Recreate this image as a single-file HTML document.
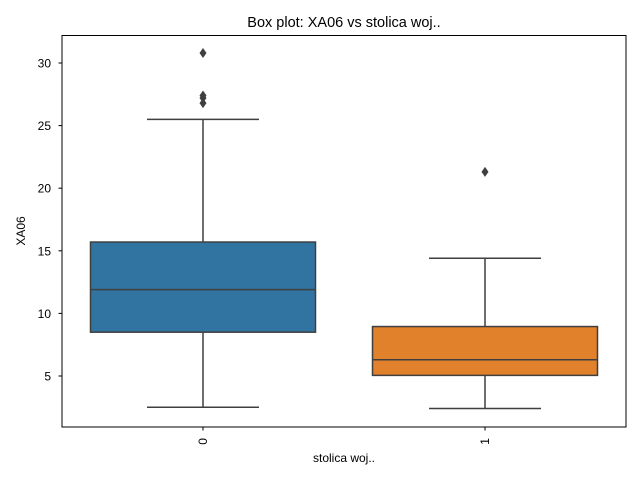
<!DOCTYPE html>
<html><head><meta charset="utf-8"><style>
body{margin:0;background:#fff}
svg text{font-family:"Liberation Sans",sans-serif;fill:#000}
</style></head><body>
<svg id="c" width="640" height="480">
<text x="344" y="27" font-size="14.5" text-anchor="middle">Box plot: XA06 vs stolica woj..</text>
<text x="344" y="462" font-size="12" text-anchor="middle">stolica woj..</text>
<text transform="translate(25,231) rotate(-90)" font-size="12" text-anchor="middle">XA06</text>
<g id="marks"></g>
<rect x="62" y="35.5" width="564" height="391.5" fill="none" stroke="#000" stroke-width="1"/>
</svg>
<script>
const categories=["0","1"];
const q1=[8.5,5.05];
const medians=[11.9,6.3];
const q3=[15.7,8.95];
const whiskLow=[2.5,2.4];
const whiskHigh=[25.5,14.4];
const outliers=[[26.8,27.2,27.4,30.8],[21.3]];
const yTicks=[5,10,15,20,25,30];
const colors=["#3274a1","#e1812c"];
const NS="http://www.w3.org/2000/svg";
const y=v=>376-(v-5)*12.52;
const xc=i=>62+564*(i+0.5)/categories.length;
const bw=225;
const g=document.getElementById('marks');
function mk(t,a){const e=document.createElementNS(NS,t);for(const k in a)e.setAttribute(k,a[k]);g.appendChild(e);return e;}
yTicks.forEach(t=>{
 const l=mk('line',{x1:58.5,x2:62,y1:y(t),y2:y(t),stroke:'#000'});
 
 
 const tx=mk('text',{x:51,y:y(t)+4.5,'font-size':12,'text-anchor':'end'});tx.textContent=t;
 
 
});
categories.forEach((c,i)=>{
 const x=xc(i);
 const tk=mk('line',{x1:x,x2:x,y1:427,y2:430.5,stroke:'#000'});
 
 
 const tx=mk('text',{transform:`translate(${x+4},438) rotate(-90)`,'font-size':12,'text-anchor':'end'});tx.textContent=c;
 
 
 const w1=mk('line',{x1:x,x2:x,y1:y(q1[i]),y2:y(whiskLow[i]),stroke:'#3f3f3f','stroke-width':1.5});
 
 
 const w2=mk('line',{x1:x,x2:x,y1:y(q3[i]),y2:y(whiskHigh[i]),stroke:'#3f3f3f','stroke-width':1.5});
 
 
 [whiskLow[i],whiskHigh[i]].forEach(v=>{const cap=mk('line',{x1:x-56,x2:x+56,y1:y(v),y2:y(v),stroke:'#3f3f3f','stroke-width':1.5});
 
 });
 const b=mk('rect',{x:x-bw/2,y:y(q3[i]),width:bw,height:y(q1[i])-y(q3[i]),fill:colors[i],stroke:'#3f3f3f','stroke-width':1.5});
 
 
 const m=mk('line',{x1:x-bw/2,x2:x+bw/2,y1:y(medians[i]),y2:y(medians[i]),stroke:'#3f3f3f','stroke-width':1.5});
 
 
 outliers[i].forEach(v=>{const yy=y(v);const o=mk('polygon',{points:`${x},${yy-5} ${x+3.5},${yy} ${x},${yy+5} ${x-3.5},${yy}`,fill:'#3f3f3f'});
 
 });
});
</script>
</body></html>
